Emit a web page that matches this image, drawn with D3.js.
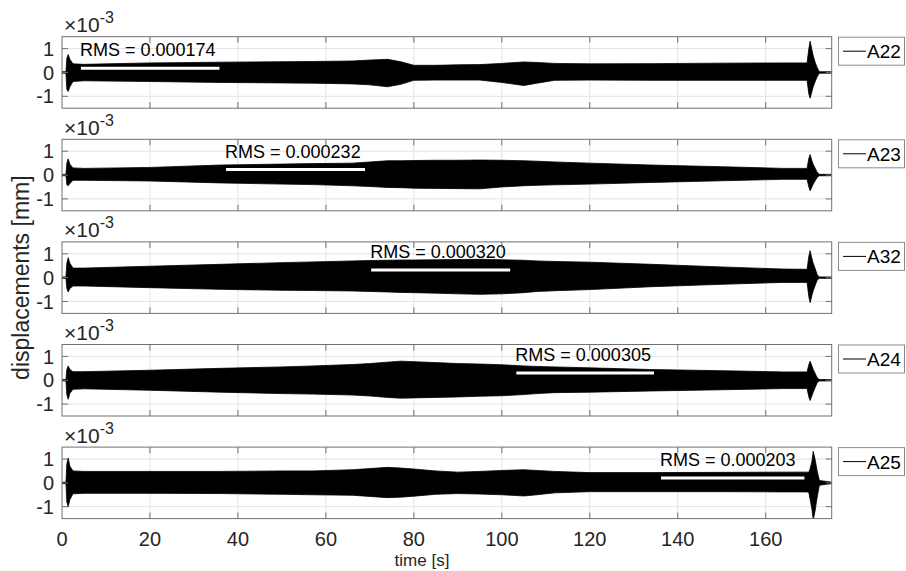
<!DOCTYPE html>
<html>
<head>
<meta charset="utf-8">
<script src="https://cdn.jsdelivr.net/npm/d3@7"></script>
<style>
  html, body { margin: 0; padding: 0; background: #fff; }
  svg { display: block; font-family: "Liberation Sans", Arial, Helvetica, sans-serif; }
</style>
</head>
<body>
<svg id="chart" width="906" height="571"></svg>
<script>
// ---------------- data ----------------
const channels = ["A22", "A23", "A32", "A24", "A25"];
const rmsValues = [0.000174, 0.000232, 0.000320, 0.000305, 0.000203];
const rmsStart = [4.3, 37.3, 70.3, 103.3, 136.2];   // s
const rmsEnd   = [35.8, 68.9, 101.9, 134.6, 168.8]; // s
const xTicks = [0, 20, 40, 60, 80, 100, 120, 140, 160];
const yTicks = [-1, 0, 1];

// envelope of the displacement signal (x10^-3 mm)
const envTime = [0, 0.9, 1.1, 1.4, 1.8, 2.5, 5, 20, 36, 50, 57, 66, 70, 74, 77, 80, 85, 90, 95, 100,
  105, 108, 112, 120, 134, 150, 164, 169.4, 169.8, 170.1, 170.5, 170.8, 171.2, 171.7, 172.2, 175];

const upperA22 = [0.03,0.03,0.6,0.75,0.55,0.36,0.34,0.40,0.43,0.45,0.46,0.48,0.52,0.55,0.45,0.30,0.30,0.32,0.33,0.38,
  0.44,0.42,0.38,0.36,0.37,0.39,0.40,0.40,1.0,1.31,0.95,0.7,0.45,0.2,0.03,0.03];
const lowerA22 = [-0.03,-0.03,-0.7,-0.8,-0.6,-0.38,-0.35,-0.38,-0.42,-0.44,-0.45,-0.48,-0.52,-0.6,-0.5,-0.33,-0.32,-0.32,-0.32,-0.42,
  -0.55,-0.45,-0.33,-0.32,-0.33,-0.33,-0.33,-0.33,-0.9,-1.08,-0.8,-0.6,-0.4,-0.18,-0.03,-0.03];

const upperA23 = [0.03,0.03,0.5,0.68,0.45,0.3,0.28,0.32,0.42,0.46,0.48,0.5,0.55,0.6,0.6,0.61,0.62,0.62,0.63,0.62,
  0.6,0.58,0.55,0.5,0.42,0.35,0.28,0.28,0.7,0.86,0.6,0.45,0.3,0.12,0.03,0.03];
const lowerA23 = [-0.03,-0.03,-0.4,-0.45,-0.35,-0.22,-0.22,-0.25,-0.33,-0.38,-0.4,-0.45,-0.48,-0.52,-0.53,-0.55,-0.56,-0.57,-0.58,-0.5,
  -0.45,-0.43,-0.41,-0.38,-0.31,-0.24,-0.18,-0.18,-0.5,-0.66,-0.5,-0.38,-0.25,-0.1,-0.03,-0.03];

const upperA32 = [0.03,0.03,0.6,0.84,0.6,0.4,0.4,0.48,0.56,0.63,0.66,0.7,0.72,0.73,0.74,0.74,0.75,0.76,0.77,0.75,
  0.73,0.70,0.68,0.65,0.56,0.45,0.36,0.35,0.9,1.13,0.8,0.6,0.4,0.12,0.03,0.03];
const lowerA32 = [-0.03,-0.03,-0.45,-0.6,-0.45,-0.35,-0.35,-0.42,-0.49,-0.53,-0.54,-0.56,-0.58,-0.6,-0.62,-0.63,-0.65,-0.68,-0.70,-0.68,
  -0.63,-0.58,-0.55,-0.5,-0.38,-0.28,-0.2,-0.2,-0.8,-1.05,-0.75,-0.55,-0.35,-0.1,-0.03,-0.03];

const upperA24 = [0.03,0.03,0.45,0.6,0.45,0.36,0.36,0.42,0.5,0.56,0.6,0.66,0.7,0.76,0.8,0.78,0.74,0.7,0.68,0.65,
  0.6,0.58,0.56,0.52,0.45,0.4,0.35,0.35,0.65,0.8,0.6,0.45,0.3,0.1,0.03,0.03];
const lowerA24 = [-0.03,-0.03,-0.6,-0.8,-0.55,-0.38,-0.36,-0.42,-0.5,-0.56,-0.58,-0.62,-0.66,-0.72,-0.75,-0.74,-0.72,-0.7,-0.67,-0.65,
  -0.6,-0.56,-0.52,-0.5,-0.45,-0.4,-0.35,-0.35,-0.7,-0.85,-0.65,-0.5,-0.32,-0.1,-0.03,-0.03];

const upperA25 = [0.03,0.03,0.8,1.04,0.7,0.5,0.48,0.48,0.48,0.5,0.5,0.55,0.6,0.65,0.62,0.58,0.5,0.45,0.48,0.52,
  0.55,0.52,0.48,0.43,0.43,0.44,0.45,0.45,0.45,0.6,0.9,1.32,1.0,0.5,0.1,0.03];
const lowerA25 = [-0.03,-0.03,-0.8,-1.0,-0.7,-0.46,-0.44,-0.44,-0.45,-0.48,-0.5,-0.52,-0.57,-0.62,-0.6,-0.56,-0.48,-0.45,-0.47,-0.5,
  -0.55,-0.5,-0.42,-0.37,-0.37,-0.37,-0.38,-0.38,-0.4,-0.7,-1.1,-1.55,-1.2,-0.6,-0.1,-0.03];

const uppers = [upperA22, upperA23, upperA32, upperA24, upperA25];
const lowers = [lowerA22, lowerA23, lowerA32, lowerA24, lowerA25];

// ---------------- layout ----------------
const svg = d3.select("#chart");
const left = 62, right = 831.7;
const firstTop = 36.7, panelStep = 102.6, panelH = 71.5;
const axisColor = "#707070", gridColor = "#e3e3e3", textColor = "#262626";
const font = "'Liberation Sans', Arial, Helvetica, sans-serif";

const x = d3.scaleLinear().domain([0, 175]).range([left, right]);
const tickLen = 6;

channels.forEach((ch, i) => {
  const top = firstTop + i * panelStep;
  const y = d3.scaleLinear().domain([-1.5, 1.5]).range([top + panelH, top]);
  const g = svg.append("g");

  const clipId = "clip" + i;
  svg.append("clipPath").attr("id", clipId)
    .append("rect").attr("x", left).attr("y", top).attr("width", right - left).attr("height", panelH);

  // grid
  g.append("g").selectAll("line").data(xTicks.filter(t => t > 0)).join("line")
    .attr("x1", d => x(d)).attr("x2", d => x(d)).attr("y1", top).attr("y2", top + panelH)
    .attr("stroke", gridColor).attr("stroke-width", 1);
  g.append("g").selectAll("line").data(yTicks).join("line")
    .attr("x1", left).attr("x2", right).attr("y1", d => y(d)).attr("y2", d => y(d))
    .attr("stroke", gridColor).attr("stroke-width", 1);

  // signal envelope
  const env = envTime.map((t, k) => ({ t, hi: uppers[i][k], lo: lowers[i][k] }));
  const area = d3.area().x(d => x(d.t)).y0(d => y(d.lo)).y1(d => y(d.hi));
  g.append("path").datum(env).attr("d", area)
    .attr("fill", "#000").attr("stroke", "#000").attr("stroke-width", 0.8)
    .attr("clip-path", `url(#${clipId})`);

  // RMS line + label
  g.append("line")
    .attr("x1", x(rmsStart[i])).attr("x2", x(rmsEnd[i]))
    .attr("y1", y(rmsValues[i] * 1000)).attr("y2", y(rmsValues[i] * 1000))
    .attr("stroke", "#fff").attr("stroke-width", 3);
  g.append("text")
    .attr("x", x(rmsStart[i]) - 1).attr("y", y(rmsValues[i] * 1000 + 0.5))
    .attr("font-size", 18).attr("fill", "#000").attr("font-family", font)
    .text("RMS = " + rmsValues[i].toFixed(6));

  // box
  g.append("rect").attr("x", left).attr("y", top).attr("width", right - left).attr("height", panelH)
    .attr("fill", "none").attr("stroke", axisColor).attr("stroke-width", 1);

  // ticks (inside, on all four sides)
  const xt = xTicks.filter(t => t > 0);
  g.append("g").selectAll("line").data(xt).join("line")
    .attr("x1", d => x(d)).attr("x2", d => x(d)).attr("y1", top + panelH).attr("y2", top + panelH - tickLen)
    .attr("stroke", axisColor);
  g.append("g").selectAll("line").data(xt).join("line")
    .attr("x1", d => x(d)).attr("x2", d => x(d)).attr("y1", top).attr("y2", top + tickLen)
    .attr("stroke", axisColor);
  g.append("g").selectAll("line").data(yTicks).join("line")
    .attr("x1", left).attr("x2", left + tickLen).attr("y1", d => y(d)).attr("y2", d => y(d))
    .attr("stroke", axisColor);
  g.append("g").selectAll("line").data(yTicks).join("line")
    .attr("x1", right).attr("x2", right - tickLen).attr("y1", d => y(d)).attr("y2", d => y(d))
    .attr("stroke", axisColor);

  // y tick labels
  g.append("g").selectAll("text").data(yTicks).join("text")
    .attr("x", left - 8).attr("y", d => y(d)).attr("dy", "0.36em")
    .attr("text-anchor", "end").attr("font-size", 20).attr("fill", textColor).attr("font-family", font)
    .text(d => d);

  // exponent label
  const ex = g.append("text").attr("x", left + 2).attr("y", top - 4.5)
    .attr("font-size", 21).attr("fill", textColor).attr("font-family", font);
  ex.append("tspan").text("\u00D710");
  ex.append("tspan").attr("font-size", 16).attr("dy", -9).text("-3");

  // legend
  const lg = g.append("g");
  lg.append("rect").attr("x", 838.5).attr("y", top + 0.5).attr("width", 66).attr("height", 28)
    .attr("fill", "#fff").attr("stroke", "#8a8a8a").attr("stroke-width", 1);
  lg.append("line").attr("x1", 843).attr("x2", 866).attr("y1", top + 14.5).attr("y2", top + 14.5)
    .attr("stroke", "#000").attr("stroke-width", 1);
  lg.append("text").attr("x", 867).attr("y", top + 21.5)
    .attr("font-size", 19).attr("fill", "#000").attr("font-family", font).text(ch);

  // x tick labels on bottom panel
  if (i === channels.length - 1) {
    g.append("g").selectAll("text").data(xTicks).join("text")
      .attr("x", d => x(d)).attr("y", top + panelH + 27)
      .attr("text-anchor", "middle").attr("font-size", 20).attr("fill", textColor).attr("font-family", font)
      .text(d => d);
  }
});

// axis titles
svg.append("text").attr("x", 422).attr("y", 566)
  .attr("text-anchor", "middle").attr("font-size", 17).attr("fill", textColor).attr("font-family", font)
  .text("time [s]");
const yMid = (firstTop + 4 * panelStep + panelH + firstTop) / 2;
svg.append("text").attr("transform", `translate(29,${yMid}) rotate(-90)`)
  .attr("text-anchor", "middle").attr("font-size", 23).attr("fill", textColor).attr("font-family", font)
  .text("displacements [mm]");
</script>
</body>
</html>
